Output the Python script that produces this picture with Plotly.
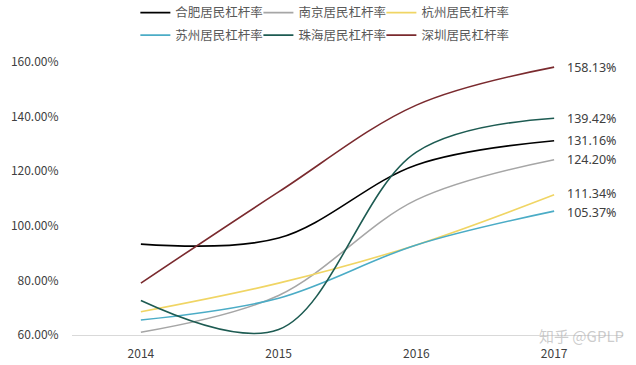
import plotly.graph_objects as go

years = ["2014", "2015", "2016", "2017"]
names = ["合肥居民杠杆率", "南京居民杠杆率", "杭州居民杠杆率",
         "苏州居民杠杆率", "珠海居民杠杆率", "深圳居民杠杆率"]
hefei = [93.3, 95.5, 122.3, 131.16]
nanjing = [61.0, 74.5, 109.5, 124.20]
hangzhou = [68.5, 79.0, 93.0, 111.34]
suzhou = [65.5, 73.5, 93.0, 105.37]
zhuhai = [72.6, 62.0, 127.0, 139.42]
shenzhen = [79.0, 112.4, 144.2, 158.13]
end_labels = ["131.16%", "124.20%", "111.34%", "105.37%", "139.42%", "158.13%"]
label_nudge = [0, 0, 1.5, -1.5, 0, 0]

series = [hefei, nanjing, hangzhou, suzhou, zhuhai, shenzhen]
colors = ["#000000", "#a6a6a6", "#f0d564", "#4bacc6", "#1d5b52", "#7a2a2e"]
FONT = "Noto Sans CJK SC"
NUMFONT = "Noto Sans"

# legend grid: 3 columns x 2 rows (paper coords)
leg_cols = [0.115, 0.3383, 0.5615]
leg_rows = [1.1795, 1.097]

fig = go.Figure()
last_idx = len(years) - 1
legend_layout = {}
for i, (n, s, c) in enumerate(zip(names, series, colors)):
    key = "legend" if i == 0 else f"legend{i + 1}"
    fig.add_trace(go.Scatter(
        x=years, y=s, name=n, mode="lines", showlegend=True,
        line=dict(color=c, width=1.6, shape="spline", smoothing=1.0),
        legend=key,
    ))
    legend_layout[key] = dict(
        x=leg_cols[i % 3], y=leg_rows[i // 3], xanchor="left", yanchor="middle",
        orientation="h", font=dict(family=FONT, size=12.5, color="#595959"),
        itemwidth=30, bgcolor="rgba(0,0,0,0)")
    fig.add_annotation(x=last_idx, y=s[-1], text=end_labels[i], showarrow=False,
                       xanchor="left", yanchor="middle", xshift=11,
                       yshift=label_nudge[i],
                       font=dict(family=NUMFONT, size=12.5, color="#404040"))

fig.add_annotation(xref="paper", yref="paper", x=1.005, y=0.0, text="知乎 @GPLP",
                   showarrow=False, xanchor="right", yanchor="middle",
                   font=dict(family=FONT, size=15, color="rgba(170,170,170,0.6)"))

fig.update_layout(
    width=636, height=365, showlegend=True,
    margin=dict(l=72, r=13, t=62, b=30, autoexpand=False),
    paper_bgcolor="white", plot_bgcolor="white",
    font=dict(family=FONT, color="#595959"),
    xaxis=dict(type="category", range=[-0.5, 3.5], showgrid=False,
               showline=True, linecolor="#d9d9d9", linewidth=1,
               ticks="outside", ticklen=8, tickcolor="rgba(0,0,0,0)",
               tickfont=dict(family=FONT, size=12, color="#404040"), zeroline=False),
    yaxis=dict(range=[60, 160], dtick=20, tickformat=".2f", ticksuffix="%",
               showgrid=False, showline=False, zeroline=False,
               ticks="outside", ticklen=10, tickcolor="rgba(0,0,0,0)",
               tickfont=dict(family=FONT, size=12, color="#404040")),
    **legend_layout,
)

fig.write_html("out.html", config={"displayModeBar": False},
               post_script="document.body.style.margin='0';document.body.style.overflow='hidden';")
